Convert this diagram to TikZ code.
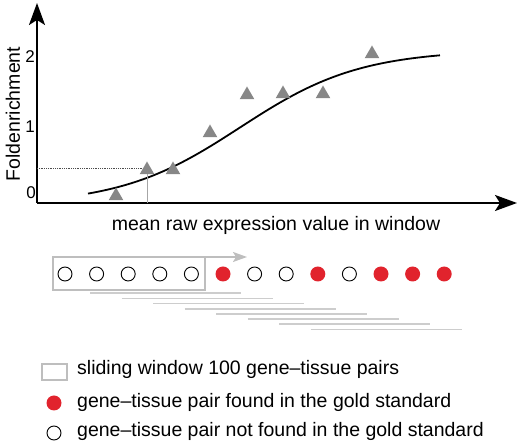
\documentclass[tikz,border=0pt]{standalone}
\usepackage{fontspec}
\setmainfont{Liberation Sans}
\usetikzlibrary{shapes.geometric,arrows.meta}
\definecolor{dotred}{RGB}{225,35,45}
\definecolor{trigray}{RGB}{135,135,135}
\definecolor{boxgray}{RGB}{190,190,190}
\definecolor{linegray}{RGB}{205,205,205}
\tikzset{
  lbl/.style={font=\fontsize{19.5}{22}\selectfont, inner sep=0pt},
  tick/.style={font=\fontsize{17}{20}\selectfont, inner sep=0pt},
  tri/.style={regular polygon, regular polygon sides=3, minimum size=17pt, fill=trigray, inner sep=0pt},
  opendot/.style={circle, draw=black, line width=0.9pt, minimum size=14pt, inner sep=0pt},
  reddot/.style={circle, fill=dotred, minimum size=15pt, inner sep=0pt},
  axis/.style={line width=1.8pt, -{Stealth[length=22pt,width=16pt,inset=5pt]}},
  winbox/.style={draw=boxgray, line width=1.6pt},
  slide/.style={draw=linegray, line width=1.6pt},
}
\begin{document}
\begin{tikzpicture}[x=1pt,y=1pt]
\useasboundingbox (0,0) rectangle (520,444);
% axes
\coordinate (o) at (37,241);
\coordinate (ytop) at (37,441);
\coordinate (xend) at (517,241);
\draw[axis] (o) -- (ytop);
\draw[axis] (o) -- (xend);
% labels
\node[lbl, rotate=90] (ylab) at (13,330) {Foldenrichment};
\node[lbl] (xlab) at (276,219) {mean raw expression value in window};
\node[tick] (t2) at (30,387) {2};
\node[tick] (t1) at (30,317) {1};
\node[tick] (t0) at (31,251) {0};
% curve
\draw[line width=1.8pt] plot[domain=88:440, samples=80, smooth] (\x, {239+155/(1+exp(-(\x-240)/60))});
% triangles
\node[tri] (p1) at (116,248) {};
\node[tri] (p2) at (147,274) {};
\node[tri] (p3) at (173,274) {};
\node[tri] (p4) at (210,311) {};
\node[tri] (p5) at (247,349) {};
\node[tri] (p6) at (283,350) {};
\node[tri] (p7) at (323,350) {};
\node[tri] (p8) at (372,390) {};
% guide lines
\coordinate (hl) at (37,276);
\coordinate (vb) at (146,241);
\draw[densely dotted, line width=0.8pt, black!70] (hl) -- (p2.west |- hl);
\draw[black!35, line width=0.9pt] (p2.south) -- (p2.south |- vb);
% window box and arrow
\draw[winbox] (53,187) rectangle (205,154);
\coordinate (wa) at (205,187);
\coordinate (wb) at (247,187);
\draw[winbox, -{Stealth[length=14pt,width=10pt,inset=3pt]}] (wa) -- (wb);
% dots
\foreach \i/\s in {0/opendot,1/opendot,2/opendot,3/opendot,4/opendot,5/reddot,6/opendot,7/opendot,8/reddot,9/opendot,10/reddot,11/reddot,12/reddot}{
  \node[\s] (d\i) at ({65+31.6*\i},170) {};
}
% sliding lines
\foreach \i in {0,...,7}{
  \coordinate (sa\i) at ({90+31.5*\i},{150.7-5.15*\i});
  \coordinate (sb\i) at ({241+31.5*\i},{150.7-5.15*\i});
  \draw[slide] (sa\i) -- (sb\i);
}
% legend
\draw[winbox] (42,80) rectangle (67,64);
\node[reddot] (lr) at (54,41) {};
\node[opendot] (lo) at (54,11) {};
\node[lbl, anchor=west] (lt1) at (77,75) {sliding window 100 gene–tissue pairs};
\node[lbl, anchor=west] (lt2) at (77,42) {gene–tissue pair found in the gold standard};
\node[lbl, anchor=west] (lt3) at (77,13) {gene–tissue pair not found in the gold standard};
\end{tikzpicture}
\end{document}
